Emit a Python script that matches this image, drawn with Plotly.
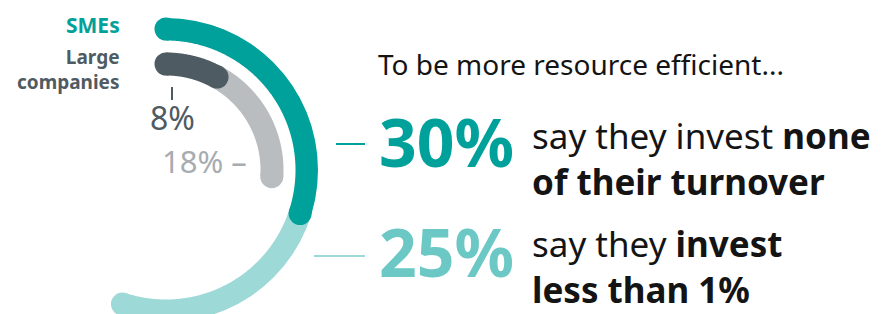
import numpy as np
import plotly.graph_objects as go

# ---- data ----
sme_values = [30, 25]            # % of SMEs: invest none / invest less than 1%
large_values = [8, 18]           # % of large companies: invest none / invest less than 1%
series_names = ["SMEs", "Large<br>companies"]
intro_text = "To be more resource efficient..."
sme_statements = [
    "say they invest <b>none</b><br><b>of their turnover</b>",
    "say they <b>invest</b><br><b>less than 1%</b>",
]

W, H = 888, 314
OFF = 8  # page body margin offset
TEAL = "#00a19a"
TEAL_LIGHT = "#9dd9d6"
TEAL_TEXT_LIGHT = "#6bc8c5"
GREY_DARK = "#4f5b63"
GREY_LIGHT = "#babdc0"
GREY_TEXT = "#a7acb0"
BLACK = "#141414"
FONT = "Noto Sans"

# polar geometry (screen pixels)
CX, CY = 166, 170
R_OUTER, R_INNER, STROKE = 141, 106, 23


def px(x):
    return (x - OFF) / W


def py(y):
    return 1 - (y - OFF) / H


cyf = CY - OFF
RMAX = H - cyf  # polar radius in px, limited by the bottom edge of the paper

fig = go.Figure()


def add_ring(values, radius, colors):
    starts = np.cumsum([0] + values[:-1])
    for i in reversed(range(len(values))):
        a0, a1 = starts[i] * 3.6, (starts[i] + values[i]) * 3.6
        theta = np.linspace(a0, a1, 240)
        fig.add_trace(go.Scatterpolar(
            r=[radius] * len(theta), theta=theta, mode="lines",
            line=dict(color=colors[i], width=STROKE),
            hoverinfo="skip", showlegend=False, cliponaxis=False,
        ))
        caps = [a1] if i > 0 else [a0, a1]
        fig.add_trace(go.Scatterpolar(
            r=[radius] * len(caps), theta=caps, mode="markers",
            marker=dict(color=colors[i], size=STROKE, line=dict(width=0)),
            hoverinfo="skip", showlegend=False, cliponaxis=False,
        ))


add_ring(sme_values, R_OUTER, [TEAL, TEAL_LIGHT])
add_ring(large_values, R_INNER, [GREY_DARK, GREY_LIGHT])

fig.update_layout(
    width=W, height=H,
    margin=dict(l=0, r=0, t=0, b=0),
    paper_bgcolor="white", plot_bgcolor="white",
    polar=dict(
        domain=dict(x=[(CX - OFF - RMAX) / W, (CX - OFF + RMAX) / W],
                    y=[0, 2 * RMAX / H]),
        bgcolor="rgba(0,0,0,0)",
        radialaxis=dict(range=[0, RMAX], visible=False, showgrid=False),
        angularaxis=dict(rotation=90, direction="clockwise", visible=False, showgrid=False),
    ),
)

ann = []


def text(x, y, s, size, color, xanchor="left", bold=False, align="left"):
    ann.append(dict(
        x=px(x), y=py(y), xref="paper", yref="paper", text=(f"<b>{s}</b>" if bold else s),
        showarrow=False, xanchor=xanchor, yanchor="middle", align=align,
        font=dict(family=FONT, size=size, color=color),
    ))


# series labels
text(122, 24.6, series_names[0], 21, TEAL, xanchor="right", bold=True, align="right")
text(122, 70, series_names[1], 19, GREY_DARK, xanchor="right", bold=True, align="right")

# large company values
text(172, 117, f"{large_values[0]}%", 32, GREY_DARK, xanchor="center")
text(160, 160.6, f"{large_values[1]}% –", 31, GREY_TEXT)

# intro + SME values
text(376, 63.8, intro_text, 28, BLACK)
text(377, 140.6, f"{sme_values[0]}%", 66, TEAL, bold=True)
text(377, 250.6, f"{sme_values[1]}%", 66, TEAL_TEXT_LIGHT, bold=True)

text(530, 158, sme_statements[0], 35, BLACK)
text(530, 266, sme_statements[1], 35, BLACK)

fig.update_layout(annotations=ann)

shapes = [
    dict(type="line", xref="paper", yref="paper", x0=px(172), x1=px(172), y0=py(87), y1=py(100),
         line=dict(color=GREY_DARK, width=2)),
    dict(type="line", xref="paper", yref="paper", x0=px(336), x1=px(365), y0=py(144), y1=py(144),
         line=dict(color=TEAL, width=2)),
    dict(type="line", xref="paper", yref="paper", x0=px(314), x1=px(365), y0=py(256), y1=py(256),
         line=dict(color=TEAL_LIGHT, width=2)),
]
fig.update_layout(shapes=shapes)

fig.write_html("out.html")
